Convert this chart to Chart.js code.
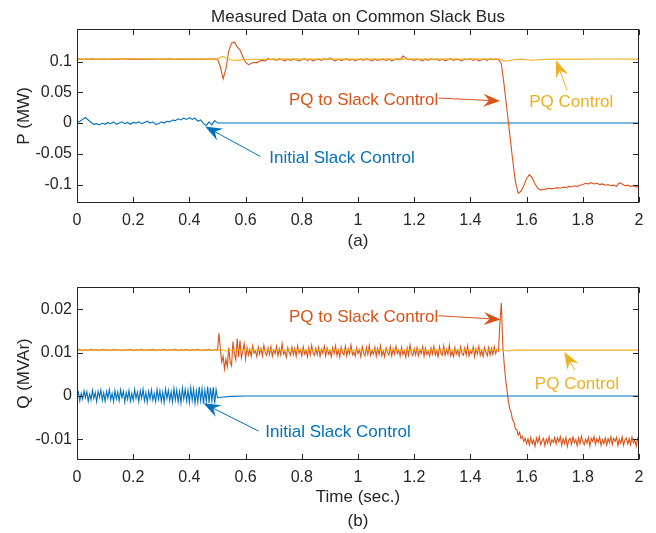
<!DOCTYPE html>
<html>
<head>
<meta charset="utf-8">
<script src="https://cdn.jsdelivr.net/npm/chart.js@4.4.0/dist/chart.umd.min.js"></script>
<style>
  html, body { margin: 0; padding: 0; background: #fff; }
  #wrap { position: relative; width: 656px; height: 533px; }
  canvas { position: absolute; left: 0; top: 0; }
</style>
</head>
<body>
<div id="wrap">
  <canvas id="chartP" width="656" height="533"></canvas>
  <canvas id="chartQ" width="656" height="533"></canvas>
</div>
<script>
const FONT = "'Liberation Sans', Arial, Helvetica, sans-serif";
const INK = "#262626";
const BLUE = "#0072BD", ORANGE = "#D95319", YELLOW = "#EDB120";

const timeTicks = [0, 0.2, 0.4, 0.6, 0.8, 1, 1.2, 1.4, 1.6, 1.8, 2];
const pTicks = [-0.1, -0.05, 0, 0.05, 0.1];
const qTicks = [-0.01, 0, 0.01, 0.02];

// sampling grid from a to b (inclusive), step dt
const span = (a, b, dt) => {
  const n = Math.round((b - a) / dt) + 1;
  return Array.from({ length: n }, (_, i) => +(a + i * dt).toFixed(3));
};

// ---- P (MW) ----
const initialP_t = [...span(0, 0.5, 0.01), 0.52, 2];
const initialP = [
  0.001, 0.003, 0.006, 0.009, 0.005, 0.001, -0.002, -0.001, -0.003, 0.000,
  -0.002, 0.001, -0.001, 0.002, -0.002, 0.000, 0.002, -0.001, 0.001, -0.002,
  0.001, 0.000, 0.002, -0.001, 0.001, 0.003, 0.000, 0.002, -0.002, -0.001,
  0.002, 0.000, 0.003, 0.002, 0.005, 0.004, 0.007, 0.005, 0.008, 0.006,
  0.009, 0.006, 0.008, 0.003, 0.005, -0.001, -0.004, 0.002, -0.003, 0.004,
  0.000, 0, 0
];

const pqSlackP_t = span(0, 2, 0.01);
const pqSlackP = [
  0.1040, 0.1043, 0.1038, 0.1042, 0.1039, 0.1044, 0.1040, 0.1037, 0.1042, 0.1040,
  0.1041, 0.1038, 0.1043, 0.1040, 0.1042, 0.1038, 0.1041, 0.1044, 0.1039, 0.1041,
  0.1040, 0.1043, 0.1039, 0.1041, 0.1038, 0.1042, 0.1040, 0.1043, 0.1038, 0.1041,
  0.1042, 0.1039, 0.1041, 0.1044, 0.1040, 0.1038, 0.1042, 0.1040, 0.1043, 0.1039,
  0.1041, 0.1040, 0.1043, 0.1038, 0.1042, 0.1040, 0.1039, 0.1043, 0.1041, 0.1040,
  0.104, 0.092, 0.072, 0.088, 0.117, 0.130, 0.132, 0.124, 0.119, 0.108,
  0.099, 0.095, 0.097, 0.099, 0.098, 0.101, 0.102, 0.101, 0.105, 0.103,
  0.104, 0.102, 0.105, 0.103, 0.101, 0.104, 0.102, 0.104, 0.103, 0.101,
  0.103, 0.105, 0.102, 0.104, 0.101, 0.103, 0.104, 0.102, 0.105, 0.103,
  0.106, 0.103, 0.101, 0.104, 0.102, 0.103, 0.105, 0.102, 0.104, 0.101,
  0.103, 0.104, 0.102, 0.105, 0.103, 0.101, 0.104, 0.102, 0.103, 0.104,
  0.102, 0.104, 0.101, 0.103, 0.105, 0.103, 0.109, 0.106, 0.103, 0.104,
  0.102, 0.104, 0.103, 0.101, 0.104, 0.102, 0.105, 0.103, 0.104, 0.102,
  0.104, 0.101, 0.103, 0.105, 0.102, 0.104, 0.103, 0.101, 0.104, 0.103,
  0.105, 0.102, 0.104, 0.101, 0.103, 0.104, 0.102, 0.105, 0.103, 0.104,
  0.103, 0.097, 0.062, 0.022, -0.018, -0.058, -0.095, -0.114, -0.111, -0.102,
  -0.090, -0.084, -0.089, -0.099, -0.106, -0.109, -0.108, -0.107, -0.106, -0.107,
  -0.106, -0.105, -0.106, -0.104, -0.105, -0.103, -0.104, -0.102, -0.103, -0.101,
  -0.100, -0.098, -0.099, -0.097, -0.099, -0.098, -0.100, -0.099, -0.101, -0.100,
  -0.102, -0.101, -0.103, -0.097, -0.099, -0.102, -0.101, -0.103, -0.102, -0.104,
  -0.103
];

const pqControlP_t = [0, 0.1, 0.2, 0.3, 0.4, 0.5, 0.51, 0.52, 0.53, 0.55, 0.57, 0.6, 0.7, 0.8, 0.9, 1.0,
  1.1, 1.2, 1.3, 1.4, 1.5, 1.51, 1.52, 1.53, 1.55, 1.58, 1.6, 1.62, 1.65, 1.7, 1.8, 1.9, 2.0];
const pqControlP = [0.104, 0.104, 0.1045, 0.104, 0.104, 0.104, 0.107, 0.1085, 0.106, 0.1025, 0.102, 0.1035,
  0.104, 0.104, 0.104, 0.104, 0.104, 0.104, 0.104, 0.104, 0.104, 0.103, 0.1012, 0.101, 0.1025, 0.104,
  0.103, 0.1022, 0.1035, 0.104, 0.104, 0.1042, 0.104];

// ---- Q (MVAr) ----
const initialQ_t = [...span(0, 0.5, 0.005), 0.51, 0.55, 0.6, 2];
const initialQ = [
  0.0000, 0.0009, -0.0011, 0.0006, -0.0007, 0.0012, -0.0004, 0.0010, -0.0012, 0.0005,
  -0.0009, 0.0013, -0.0006, 0.0008, -0.0013, 0.0011, -0.0003, 0.0014, -0.0010, 0.0007,
  -0.0012, 0.0010, -0.0005, 0.0015, -0.0009, 0.0006, -0.0013, 0.0012, -0.0007, 0.0009,
  -0.0011, 0.0014, -0.0004, 0.0011, -0.0014, 0.0008, -0.0008, 0.0013, -0.0012, 0.0006,
  -0.0010, 0.0015, -0.0006, 0.0009, -0.0013, 0.0012, -0.0005, 0.0016, -0.0011, 0.0008,
  -0.0014, 0.0011, -0.0007, 0.0014, -0.0010, 0.0006, -0.0013, 0.0015, -0.0008, 0.0012,
  -0.0012, 0.0009, -0.0015, 0.0016, -0.0006, 0.0013, -0.0011, 0.0010, -0.0014, 0.0017,
  -0.0009, 0.0014, -0.0013, 0.0011, -0.0016, 0.0018, -0.0007, 0.0015, -0.0012, 0.0013,
  -0.0015, 0.0019, -0.0010, 0.0016, -0.0017, 0.0012, -0.0014, 0.0021, -0.0011, 0.0017,
  -0.0018, 0.0014, -0.0013, 0.0022, -0.0016, 0.0019, -0.0012, 0.0020, -0.0017, 0.0015,
  -0.0004, -0.0003, -0.0001, 0, 0
];

const pqSlackQ_t = [...span(0, 0.49, 0.01), ...span(0.5, 2, 0.005)];
const pqSlackQ = [
  // 0 .. 0.49 (10 ms)
  0.0106, 0.0108, 0.0105, 0.0107, 0.0105, 0.0108, 0.0106, 0.0107, 0.0105, 0.0108,
  0.0106, 0.0107, 0.0105, 0.0108, 0.0106, 0.0107, 0.0105, 0.0107, 0.0106, 0.0108,
  0.0105, 0.0107, 0.0106, 0.0108, 0.0105, 0.0107, 0.0106, 0.0108, 0.0105, 0.0107,
  0.0106, 0.0108, 0.0105, 0.0107, 0.0106, 0.0108, 0.0105, 0.0107, 0.0106, 0.0108,
  0.0105, 0.0107, 0.0106, 0.0108, 0.0105, 0.0107, 0.0106, 0.0108, 0.0105, 0.0107,
  // 0.5 .. 0.6 (5 ms)
  0.0106, 0.0145, 0.0110, 0.0078, 0.0092, 0.0062, 0.0085, 0.0068, 0.0112, 0.0079,
  0.0070, 0.0126, 0.0098, 0.0084, 0.0133, 0.0090, 0.0128, 0.0088, 0.0104, 0.0121,
  0.0086,
  // 0.605 .. 1.5
  0.0112, 0.0095, 0.0108, 0.0092, 0.0116, 0.0099, 0.0104, 0.0091, 0.0113, 0.0097,
  0.0110, 0.0093, 0.0117, 0.0100, 0.0094, 0.0111, 0.0096, 0.0114, 0.0092, 0.0106,
  0.0098, 0.0115, 0.0093, 0.0109, 0.0095, 0.0121, 0.0097, 0.0103, 0.0090, 0.0112,
  0.0101, 0.0094, 0.0113, 0.0096, 0.0110, 0.0092, 0.0116, 0.0099, 0.0107, 0.0093,
  0.0114, 0.0097, 0.0105, 0.0091, 0.0112, 0.0095, 0.0117, 0.0100, 0.0094, 0.0110,
  0.0096, 0.0113, 0.0092, 0.0108, 0.0099, 0.0115, 0.0093, 0.0111, 0.0097, 0.0104,
  0.0091, 0.0112, 0.0098, 0.0116, 0.0094, 0.0106, 0.0090, 0.0113, 0.0100, 0.0095,
  0.0115, 0.0093, 0.0109, 0.0097, 0.0118, 0.0095, 0.0102, 0.0092, 0.0111, 0.0098,
  0.0107, 0.0091, 0.0114, 0.0099, 0.0093, 0.0112, 0.0096, 0.0117, 0.0094, 0.0105,
  0.0097, 0.0113, 0.0092, 0.0110, 0.0096, 0.0116, 0.0093, 0.0104, 0.0091, 0.0111,
  0.0100, 0.0095, 0.0114, 0.0093, 0.0109, 0.0097, 0.0115, 0.0098, 0.0106, 0.0092,
  0.0113, 0.0096, 0.0104, 0.0090, 0.0111, 0.0094, 0.0118, 0.0099, 0.0093, 0.0109,
  0.0095, 0.0112, 0.0093, 0.0107, 0.0098, 0.0114, 0.0092, 0.0110, 0.0096, 0.0103,
  0.0092, 0.0111, 0.0097, 0.0115, 0.0095, 0.0105, 0.0091, 0.0114, 0.0099, 0.0094,
  0.0116, 0.0094, 0.0108, 0.0096, 0.0117, 0.0093, 0.0103, 0.0091, 0.0112, 0.0097,
  0.0106, 0.0092, 0.0113, 0.0098, 0.0094, 0.0111, 0.0095, 0.0116, 0.0093, 0.0104,
  0.0098, 0.0114, 0.0091, 0.0109, 0.0097, 0.0115, 0.0094, 0.0105, 0.0092, 0.0112,
  0.0101, 0.0093, 0.0112, 0.0095, 0.0110, 0.0096, 0.0114, 0.0098, 0.0108, 0.0104,
  // 1.505 .. 1.6
  0.0170, 0.0215, 0.0120, 0.0076, 0.0040, 0.0016, -0.0012, -0.0030, -0.0038, -0.0055,
  -0.0060, -0.0076, -0.0078, -0.0090, -0.0084, -0.0098, -0.0093, -0.0105, -0.0098, -0.0110,
  // 1.605 .. 2.0
  -0.0099, -0.0113, -0.0096, -0.0110, -0.0102, -0.0116, -0.0097, -0.0108, -0.0094, -0.0112,
  -0.0104, -0.0098, -0.0115, -0.0100, -0.0109, -0.0095, -0.0113, -0.0101, -0.0107, -0.0096,
  -0.0111, -0.0097, -0.0106, -0.0094, -0.0114, -0.0099, -0.0110, -0.0096, -0.0117, -0.0102,
  -0.0098, -0.0112, -0.0095, -0.0108, -0.0101, -0.0115, -0.0097, -0.0111, -0.0093, -0.0106,
  -0.0113, -0.0100, -0.0109, -0.0096, -0.0116, -0.0098, -0.0105, -0.0094, -0.0112, -0.0099,
  -0.0107, -0.0095, -0.0114, -0.0101, -0.0110, -0.0097, -0.0113, -0.0099, -0.0108, -0.0094,
  -0.0112, -0.0098, -0.0105, -0.0096, -0.0115, -0.0100, -0.0109, -0.0095, -0.0114, -0.0101,
  -0.0097, -0.0111, -0.0099, -0.0113, -0.0095, -0.0108, -0.0102, -0.0116, -0.0098, -0.0106
];

const pqControlQ_t = [0, 0.25, 0.5, 0.51, 0.53, 0.56, 0.6, 1.0, 1.5, 1.51, 1.53, 1.56, 1.6, 2.0];
const pqControlQ = [0.0106, 0.0106, 0.0106, 0.0108, 0.0104, 0.0107, 0.0106, 0.0106, 0.0106, 0.0107,
  0.0104, 0.0106, 0.0106, 0.0106];

// annotation labels: text centre and arrow (from -> to), all in data units
const notesP = [
  { text: "PQ to Slack Control", color: ORANGE, at: [1.02, 0.037], from: [1.287, 0.0407], to: [1.506, 0.0358] },
  { text: "PQ Control", color: YELLOW, at: [1.759, 0.0337], from: [1.744, 0.0533], to: [1.705, 0.102] },
  { text: "Initial Slack Control", color: BLUE, at: [0.943, -0.057], from: [0.652, -0.0542], to: [0.456, -0.0054] }
];
const notesQ = [
  { text: "PQ to Slack Control", color: ORANGE, at: [1.02, 0.0182], from: [1.287, 0.01855], to: [1.508, 0.0177] },
  { text: "PQ Control", color: YELLOW, at: [1.779, 0.0028], from: [1.772, 0.006], to: [1.734, 0.0102] },
  { text: "Initial Slack Control", color: BLUE, at: [0.929, -0.0084], from: [0.646, -0.0081], to: [0.450, -0.0017] }
];

const pts = (t, v) => t.map((x, i) => ({ x, y: v[i] }));
const fmt = (v) => String(+v.toFixed(4));

// MATLAB-style box, inward ticks and arrow annotations
const matlabBox = {
  id: "matlabBox",
  afterDatasetsDraw(chart, args, opts) {
    const { ctx, chartArea: a, scales: { x, y } } = chart;
    const L = Math.round(a.left) + 0.5, R = Math.round(a.right) - 0.5;
    const T = Math.round(a.top) + 0.5, B = Math.round(a.bottom) - 0.5;
    const tl = 5.5;
    ctx.save();
    ctx.strokeStyle = INK;
    ctx.lineWidth = 1;
    ctx.strokeRect(L, T, R - L, B - T);
    ctx.beginPath();
    x.ticks.forEach((t) => {
      const px = Math.round(x.getPixelForValue(t.value)) + 0.5;
      ctx.moveTo(px, B); ctx.lineTo(px, B - tl);
      ctx.moveTo(px, T); ctx.lineTo(px, T + tl);
    });
    y.ticks.forEach((t) => {
      const py = Math.round(y.getPixelForValue(t.value)) + 0.5;
      ctx.moveTo(L, py); ctx.lineTo(L + tl, py);
      ctx.moveTo(R, py); ctx.lineTo(R - tl, py);
    });
    ctx.stroke();

    ctx.font = "17px " + FONT;
    ctx.textAlign = "center";
    ctx.textBaseline = "middle";
    (opts.notes || []).forEach((n) => {
      ctx.fillStyle = n.color;
      ctx.strokeStyle = n.color;
      ctx.fillText(n.text, x.getPixelForValue(n.at[0]), y.getPixelForValue(n.at[1]));
      const x0 = x.getPixelForValue(n.from[0]), y0 = y.getPixelForValue(n.from[1]);
      const x1 = x.getPixelForValue(n.to[0]), y1 = y.getPixelForValue(n.to[1]);
      const ang = Math.atan2(y1 - y0, x1 - x0);
      const hl = 17, hw = 6.5;
      ctx.beginPath();
      ctx.moveTo(x0, y0);
      ctx.lineTo(x1 - Math.cos(ang) * hl * 0.6, y1 - Math.sin(ang) * hl * 0.6);
      ctx.stroke();
      ctx.save();
      ctx.translate(x1, y1);
      ctx.rotate(ang);
      ctx.beginPath();
      ctx.moveTo(0, 0);
      ctx.lineTo(-hl, hw);
      ctx.lineTo(-hl * 0.65, 0);
      ctx.lineTo(-hl, -hw);
      ctx.closePath();
      ctx.fill();
      ctx.restore();
    });
    ctx.restore();
  }
};

const lineDs = (data, color, order) => ({
  data, borderColor: color, backgroundColor: color, borderWidth: 1.1,
  pointRadius: 0, tension: 0, order
});

function axisX(titleText, height) {
  return {
    type: "linear", min: 0, max: 2,
    afterBuildTicks: (s) => { s.ticks = timeTicks.map((v) => ({ value: v })); },
    afterFit: (s) => { s.height = height; },
    grid: { display: false, drawTicks: false },
    border: { display: false },
    ticks: { color: INK, font: { family: FONT, size: 16 }, padding: 8, maxRotation: 0, autoSkip: false, callback: fmt },
    title: { display: true, text: titleText, color: INK, font: { family: FONT, size: 17, lineHeight: 24 / 17 }, padding: { top: 0, bottom: 0 } }
  };
}
function axisY(titleText, min, max, ticks) {
  return {
    type: "linear", min, max,
    afterBuildTicks: (s) => { s.ticks = ticks.map((v) => ({ value: v })); },
    afterFit: (s) => { s.width = 77; },
    grid: { display: false, drawTicks: false },
    border: { display: false },
    ticks: { color: INK, font: { family: FONT, size: 16 }, padding: 5, autoSkip: false, callback: fmt },
    title: { display: true, text: titleText, color: INK, font: { family: FONT, size: 17 }, padding: { top: 14, bottom: 0 } }
  };
}

new Chart(document.getElementById("chartP"), {
  type: "line",
  data: {
    datasets: [
      lineDs(pts(pqControlP_t, pqControlP), YELLOW, 1),
      lineDs(pts(pqSlackP_t, pqSlackP), ORANGE, 2),
      lineDs(pts(initialP_t, initialP), BLUE, 3)
    ]
  },
  options: {
    responsive: false, animation: false, devicePixelRatio: 1,
    layout: { padding: { left: 0, right: 17, top: 0, bottom: 280 } },
    plugins: {
      legend: { display: false }, tooltip: { enabled: false },
      title: { display: true, fullSize: false, text: "Measured Data on Common Slack Bus", color: INK,
        font: { family: FONT, size: 17, weight: "normal" }, padding: { top: 7, bottom: 1.6 } },
      matlabBox: { notes: notesP }
    },
    scales: { x: axisX("(a)", 50), y: axisY("P (MW)", -0.13, 0.153, pTicks) }
  },
  plugins: [matlabBox]
});

new Chart(document.getElementById("chartQ"), {
  type: "line",
  data: {
    datasets: [
      lineDs(pts(pqControlQ_t, pqControlQ), YELLOW, 1),
      lineDs(pts(pqSlackQ_t, pqSlackQ), ORANGE, 2),
      lineDs(pts(initialQ_t, initialQ), BLUE, 3)
    ]
  },
  options: {
    responsive: false, animation: false, devicePixelRatio: 1,
    layout: { padding: { left: 0, right: 17, top: 287, bottom: 0 } },
    plugins: {
      legend: { display: false }, tooltip: { enabled: false },
      matlabBox: { notes: notesQ }
    },
    scales: { x: axisX(["Time (sec.)", "(b)"], 73), y: axisY("Q (MVAr)", -0.0148, 0.0252, qTicks) }
  },
  plugins: [matlabBox]
});
</script>
</body>
</html>
